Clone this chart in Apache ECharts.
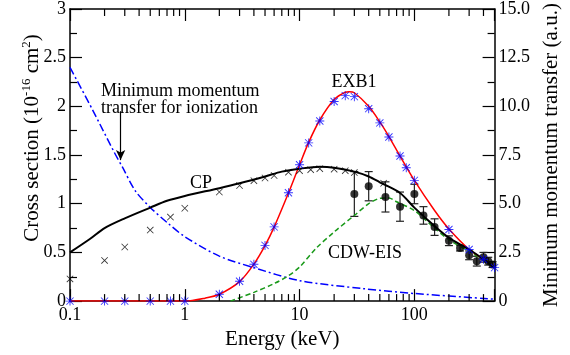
<!DOCTYPE html>
<html>
<head>
<meta charset="utf-8">
<script src="https://cdn.jsdelivr.net/npm/echarts@6/dist/echarts.min.js"></script>
<style>
html, body { margin: 0; padding: 0; background: #fff; }
#chart { width: 570px; height: 355px; }
</style>
</head>
<body>
<div id="chart"></div>
<script>
// EXB1 theory curve (red)
const exbLineX = [0.1, 1, 1.5, 2, 3, 4, 5, 6, 8, 10, 12, 15, 20, 25, 27, 30, 40, 50, 60, 75, 100, 150, 200, 300, 400, 500];
const exbLineY = [0, 0, 0.03, 0.07, 0.2, 0.38, 0.57, 0.76, 1.11, 1.40, 1.63, 1.86, 2.07, 2.145, 2.15, 2.14, 2.0, 1.84, 1.69, 1.49, 1.24, 0.93, 0.74, 0.53, 0.43, 0.35];
// EXB1 points (blue stars)
const exbX = [0.1, 0.2, 0.3, 0.5, 0.75, 1, 2, 3, 4, 5, 6, 8, 10, 12, 15, 20, 25, 30, 40, 50, 60, 75, 85, 100, 200, 300, 400, 500];
const exbY = [0, 0, 0, 0, 0, 0, 0.07, 0.204, 0.378, 0.572, 0.762, 1.113, 1.40, 1.625, 1.85, 2.05, 2.11, 2.10, 1.976, 1.83, 1.685, 1.49, 1.37, 1.24, 0.735, 0.53, 0.43, 0.344];
// CP curve (black) and CP points (crosses)
const cpLineX = [0.1, 0.15, 0.2, 0.3, 0.5, 0.7, 1, 2, 3, 5, 7, 10, 15, 20, 30, 40, 50, 75, 100, 150, 200, 300, 400, 500];
const cpLineY = [0.5, 0.64, 0.75, 0.85, 0.96, 1.03, 1.08, 1.16, 1.21, 1.28, 1.33, 1.36, 1.38, 1.37, 1.33, 1.28, 1.22, 1.11, 0.96, 0.77, 0.65, 0.53, 0.43, 0.34];
const cpX = [0.1, 0.2, 0.3, 0.5, 0.75, 1, 2, 3, 4, 5, 6, 8, 10, 12.5, 15, 20, 25, 30, 54];
const cpY = [0.228, 0.418, 0.555, 0.729, 0.863, 0.953, 1.12, 1.187, 1.237, 1.264, 1.29, 1.324, 1.34, 1.35, 1.36, 1.355, 1.34, 1.32, 1.21];
// CDW-EIS curve (green dashed)
const cdwX = [2.5, 4, 6, 8, 10, 14, 20, 30, 40, 50, 60, 70, 100, 150, 200, 300, 400, 500];
const cdwY = [0, 0.09, 0.18, 0.26, 0.35, 0.545, 0.71, 0.88, 1.0, 1.055, 1.06, 1.02, 0.93, 0.75, 0.63, 0.51, 0.42, 0.34];
// experiment with error bars
const expX = [30, 40, 56, 75, 100, 120, 150, 200, 250, 300, 350, 400, 440, 480];
const expY = [1.10, 1.18, 1.07, 0.97, 1.10, 0.88, 0.76, 0.62, 0.545, 0.47, 0.41, 0.45, 0.41, 0.375];
const expErr = [0.23, 0.15, 0.155, 0.15, 0.10, 0.09, 0.085, 0.05, 0.03, 0.045, 0.05, 0.05, 0.04, 0.03];
// minimum momentum transfer (right axis)
const qminX = [0.1, 0.157, 0.242, 0.285, 0.372, 0.5, 0.72, 1, 2, 4, 10, 36, 100, 500];
const qminY = [12.0, 9.83, 7.66, 6.9, 5.65, 4.81, 3.98, 3.31, 2.31, 1.72, 1.05, 0.64, 0.39, 0.10];
// log axis minor ticks
const minorTicks = [0.2, 0.3, 0.4, 0.5, 0.6, 0.7, 0.8, 0.9, 2, 3, 4, 5, 6, 7, 8, 9, 20, 30, 40, 50, 60, 70, 80, 90, 200, 300, 400];

const zip = (xs, ys) => xs.map((x, i) => [x, ys[i]]);
const FONT = 'Liberation Serif';
const STAR = 'path://M9 0H11V20H9Z M0 9H20V11H0Z M2.7 1.3L18.7 17.3L17.3 18.7L1.3 2.7Z M17.3 1.3L18.7 2.7L2.7 18.7L1.3 17.3Z';
const CROSS = 'path://M2.7 1.3L18.7 17.3L17.3 18.7L1.3 2.7Z M17.3 1.3L18.7 2.7L2.7 18.7L1.3 17.3Z';

const chart = echarts.init(document.getElementById('chart'));

const xAxisBase = {
    type: 'log',
    logBase: 10,
    min: 0.1,
    max: 500,
    axisLine: { onZero: false, lineStyle: { color: '#000', width: 1.5 } },
    axisTick: { inside: true, length: 12, lineStyle: { color: '#000', width: 1.2 } },
    splitLine: { show: false },
    minorTick: { show: false }
};

const option = {
    animation: false,
    textStyle: { fontFamily: FONT },
    grid: { left: 70, right: 71, top: 7, bottom: 49 },
    xAxis: [
        Object.assign({}, xAxisBase, {
            position: 'bottom',
            name: 'Energy (keV)',
            nameLocation: 'middle',
            nameGap: 19,
            nameTextStyle: { fontFamily: FONT, fontSize: 21, color: '#000' },
            axisLabel: {
                margin: 5,
                fontFamily: FONT, fontSize: 18, color: '#000',
                formatter: function (v) {
                    const lg = Math.log10(v);
                    return Math.abs(lg - Math.round(lg)) < 1e-6 ? String(+v.toPrecision(3)) : '';
                }
            }
        }),
        Object.assign({}, xAxisBase, {
            position: 'top',
            axisLabel: { show: false }
        })
    ],
    yAxis: [
        {
            type: 'value',
            min: 0,
            max: 3,
            interval: 0.5,
            position: 'left',
            axisLine: { show: true, lineStyle: { color: '#000', width: 1.5 } },
            axisTick: { show: true, inside: true, length: 12, lineStyle: { color: '#000', width: 1.2 } },
            minorTick: { show: true, splitNumber: 2, length: 7, lineStyle: { color: '#000', width: 1.2 } },
            splitLine: { show: false },
            axisLabel: { margin: 4, fontFamily: FONT, fontSize: 18, color: '#000' }
        },
        {
            type: 'value',
            min: 0,
            max: 15,
            interval: 2.5,
            position: 'right',
            name: 'Minimum momentum transfer (a.u.)',
            nameLocation: 'middle',
            nameRotate: 90,
            nameGap: 36,
            nameTextStyle: { fontFamily: FONT, fontSize: 21, color: '#000' },
            axisLine: { show: true, lineStyle: { color: '#000', width: 1.5 } },
            axisTick: { show: true, inside: true, length: 12, lineStyle: { color: '#000', width: 1.2 } },
            minorTick: { show: true, splitNumber: 2, length: 7, lineStyle: { color: '#000', width: 1.2 } },
            splitLine: { show: false },
            axisLabel: {
                margin: 4, fontFamily: FONT, fontSize: 18, color: '#000',
                formatter: v => v === 0 ? '0' : v.toFixed(1)
            }
        }
    ],
    graphic: [
        {
            type: 'text',
            x: 32, y: 138,
            rotation: Math.PI / 2,
            style: {
                text: 'Cross section (10{sup|-16} cm{sup|2})',
                font: '21px "Liberation Serif"',
                fill: '#000',
                align: 'center',
                verticalAlign: 'middle',
                lineHeight: 24,
                rich: {
                    sup: { fontSize: 13, fontFamily: FONT, lineHeight: 8, verticalAlign: 'top', fill: '#000' }
                }
            }
        },
        {
            type: 'text', x: 354, y: 82,
            style: { text: 'EXB1', font: '18px "Liberation Serif"', fill: '#000', align: 'center', verticalAlign: 'middle' }
        },
        {
            type: 'text', x: 190, y: 183,
            style: { text: 'CP', font: '18px "Liberation Serif"', fill: '#000', align: 'left', verticalAlign: 'middle' }
        },
        {
            type: 'text', x: 328, y: 253,
            style: { text: 'CDW-EIS', font: '18px "Liberation Serif"', fill: '#000', align: 'left', verticalAlign: 'middle' }
        },
        {
            type: 'text', x: 101, y: 100,
            style: { text: 'Minimum momentum\ntransfer for ionization', font: '18px "Liberation Serif"', lineHeight: 17, fill: '#000', align: 'left', verticalAlign: 'middle' }
        }
    ],
    series: [
        {
            name: 'qmin',
            type: 'line',
            yAxisIndex: 1,
            data: zip(qminX, qminY),
            smooth: 0.3,
            symbol: 'none',
            lineStyle: { color: '#0000ff', width: 1.5, type: [8, 3, 2, 3] },
            markLine: {
                silent: true,
                symbol: ['none', 'arrow'],
                symbolSize: [7, 10],
                label: { show: false },
                lineStyle: { color: '#000', width: 1.2, type: 'solid' },
                data: [[{ coord: [0.276, 9.75] }, { coord: [0.276, 7.24] }]]
            }
        },
        {
            name: 'CDW-EIS',
            type: 'line',
            data: zip(cdwX, cdwY),
            smooth: 0.3,
            symbol: 'none',
            lineStyle: { color: '#1a9a1a', width: 1.5, type: [5, 3] }
        },
        {
            name: 'EXB1 line',
            type: 'line',
            data: zip(exbLineX, exbLineY),
            smooth: 0.3,
            symbol: 'none',
            lineStyle: { color: '#ff0000', width: 1.5 }
        },
        {
            name: 'CP line',
            type: 'line',
            data: zip(cpLineX, cpLineY),
            smooth: 0.3,
            symbol: 'none',
            lineStyle: { color: '#000', width: 2 }
        },
        {
            name: 'errors',
            type: 'custom',
            data: expX.map((x, i) => [x, expY[i], expErr[i]]),
            renderItem: function (params, api) {
                const x = api.value(0), y = api.value(1), e = api.value(2);
                const hi = api.coord([x, y + e]);
                const lo = api.coord([x, y - e]);
                const w = 4;
                const st = { stroke: '#222', lineWidth: 1.2 };
                return {
                    type: 'group',
                    children: [
                        { type: 'line', shape: { x1: hi[0], y1: hi[1], x2: lo[0], y2: lo[1] }, style: st },
                        { type: 'line', shape: { x1: hi[0] - w, y1: hi[1], x2: hi[0] + w, y2: hi[1] }, style: st },
                        { type: 'line', shape: { x1: lo[0] - w, y1: lo[1], x2: lo[0] + w, y2: lo[1] }, style: st }
                    ]
                };
            },
            z: 3
        },
        {
            name: 'CP points',
            type: 'scatter',
            data: zip(cpX, cpY),
            symbol: CROSS,
            symbolSize: 7,
            itemStyle: { color: '#000' },
            z: 4
        },
        {
            name: 'experiment',
            type: 'scatter',
            data: zip(expX, expY),
            symbol: 'circle',
            symbolSize: 8,
            itemStyle: { color: '#000' },
            z: 4
        },
        {
            name: 'EXB1 points',
            type: 'scatter',
            data: zip(exbX, exbY),
            symbol: STAR,
            symbolSize: 9,
            itemStyle: { color: '#0000ff' },
            z: 5
        },
        {
            name: 'minor ticks',
            type: 'custom',
            silent: true,
            data: minorTicks.map(v => [v, 0]),
            renderItem: function (params, api) {
                const v = api.value(0);
                const b = api.coord([v, 0]);
                const t = api.coord([v, 3]);
                const st = { stroke: '#000', lineWidth: 1.2 };
                return {
                    type: 'group',
                    children: [
                        { type: 'line', shape: { x1: b[0], y1: b[1], x2: b[0], y2: b[1] - 7 }, style: st },
                        { type: 'line', shape: { x1: t[0], y1: t[1], x2: t[0], y2: t[1] + 7 }, style: st }
                    ]
                };
            },
            z: 6
        }
    ]
};

chart.setOption(option);
</script>
</body>
</html>
